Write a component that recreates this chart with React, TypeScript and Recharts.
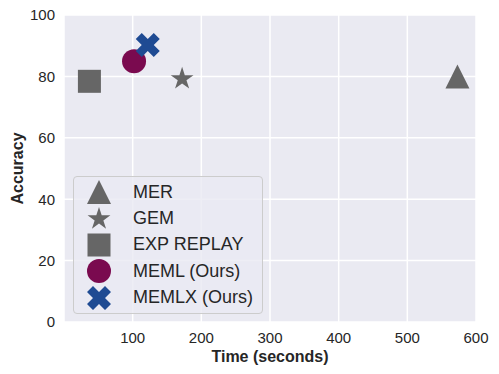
import { ScatterChart, Scatter, XAxis, YAxis, CartesianGrid, Legend } from "recharts"

// values
const methods = ["MER", "GEM", "EXP REPLAY", "MEML (Ours)", "MEMLX (Ours)"]
const timeSeconds = [573, 172, 37, 102, 122]
const accuracy = [80, 79.2, 78.4, 84.9, 90.2]
const xTicks = [100, 200, 300, 400, 500, 600]
const yTicks = [0, 20, 40, 60, 80, 100]

const GRAY = "#666666"
const markerKind: Record<string, string> = {
  MER: "triangle",
  GEM: "star",
  "EXP REPLAY": "square",
  "MEML (Ours)": "circle",
  "MEMLX (Ours)": "x",
}
const markerColor: Record<string, string> = {
  MER: GRAY,
  GEM: GRAY,
  "EXP REPLAY": GRAY,
  "MEML (Ours)": "#7A0A4F",
  "MEMLX (Ours)": "#1F4B93",
}

const FONT = "'Liberation Sans', Arial, Helvetica, sans-serif"
const TEXT = "#262626"

function Marker({ kind, cx, cy, fill }: { kind: string; cx: number; cy: number; fill: string }) {
  const r = 12
  if (kind === "triangle") {
    return <polygon points={`${cx},${cy - r} ${cx - r},${cy + r} ${cx + r},${cy + r}`} fill={fill} />
  }
  if (kind === "square") {
    return <rect x={cx - 11.5} y={cy - 11.5} width={23} height={23} fill={fill} />
  }
  if (kind === "circle") {
    return <circle cx={cx} cy={cy} r={r} fill={fill} />
  }
  if (kind === "star") {
    const pts: string[] = []
    for (let i = 0; i < 10; i++) {
      const rad = i % 2 === 0 ? r : r * 0.382
      const a = -Math.PI / 2 + (i * Math.PI) / 5
      pts.push(`${cx + rad * Math.cos(a)},${cy + rad * Math.sin(a)}`)
    }
    return <polygon points={pts.join(" ")} fill={fill} />
  }
  // filled X, same outline as matplotlib's "X"
  const xs = [
    [-1, -2], [0, -1], [1, -2], [2, -1], [1, 0], [2, 1],
    [1, 2], [0, 1], [-1, 2], [-2, 1], [-1, 0], [-2, -1],
  ]
  const s = r / 2
  return <polygon points={xs.map(([a, b]) => `${cx + a * s},${cy + b * s}`).join(" ")} fill={fill} />
}

function LegendBox() {
  return (
    <div
      style={{
        width: 188,
        padding: "2px 0",
        background: "rgba(234,234,242,0.8)",
        border: "1px solid #cccccc",
        borderRadius: 4,
        fontFamily: FONT,
        fontSize: 18,
        color: TEXT,
      }}
    >
      {methods.map((m) => (
        <div key={m} style={{ display: "flex", alignItems: "center", height: 26.4 }}>
          <svg width={50} height={26}>
            <Marker kind={markerKind[m]} cx={25} cy={13} fill={markerColor[m]} />
          </svg>
          <span style={{ marginLeft: 9, whiteSpace: "nowrap" }}>{m}</span>
        </div>
      ))}
    </div>
  )
}

export default function App() {
  return (
    <div style={{ position: "absolute", left: 0, top: 0, background: "#fff" }}>
      <ScatterChart width={499} height={374} margin={{ top: 15, right: 23, bottom: 0, left: 0 }}>
        <CartesianGrid fill="#EAEAF2" fillOpacity={1} stroke="#ffffff" strokeWidth={1.5} />
        <XAxis
          type="number"
          dataKey="x"
          domain={[0, 600]}
          ticks={xTicks}
          height={52}
          axisLine={false}
          tickLine={false}
          tickSize={6}
          tickMargin={4}
          tick={{ fill: TEXT, fontSize: 15, fontFamily: FONT }}
          label={{
            content: (p: any) => {
              const vb = p.viewBox
              return (
                <text
                  x={vb.x + vb.width / 2}
                  y={vb.y + 40}
                  textAnchor="middle"
                  fill={TEXT}
                  fontSize={16}
                  fontWeight="bold"
                  fontFamily={FONT}
                >
                  Time (seconds)
                </text>
              )
            },
          }}
        />
        <YAxis
          type="number"
          dataKey="y"
          domain={[0, 100]}
          ticks={yTicks}
          width={64}
          axisLine={false}
          tickLine={false}
          tickSize={6}
          tickMargin={3}
          tick={{ fill: TEXT, fontSize: 15, fontFamily: FONT }}
          label={{
            content: (p: any) => {
              const vb = p.viewBox
              const cx = vb.x + 17
              const cy = vb.y + vb.height / 2
              return (
                <text
                  x={cx}
                  y={cy}
                  transform={`rotate(-90 ${cx} ${cy})`}
                  textAnchor="middle"
                  dominantBaseline="central"
                  fill={TEXT}
                  fontSize={16}
                  fontWeight="bold"
                  fontFamily={FONT}
                >
                  Accuracy
                </text>
              )
            },
          }}
        />
        <Legend
          align="center"
          verticalAlign="middle"
          wrapperStyle={{ left: 73, top: 176, width: 190 }}
          content={() => <LegendBox />}
        />
        {methods.map((m, i) => (
          <Scatter
            key={m}
            name={m}
            data={[{ x: timeSeconds[i], y: accuracy[i] }]}
            fill={markerColor[m]}
            isAnimationActive={false}
            shape={(p: any) => <Marker kind={markerKind[m]} cx={p.cx} cy={p.cy} fill={markerColor[m]} />}
          />
        ))}
      </ScatterChart>
    </div>
  )
}
